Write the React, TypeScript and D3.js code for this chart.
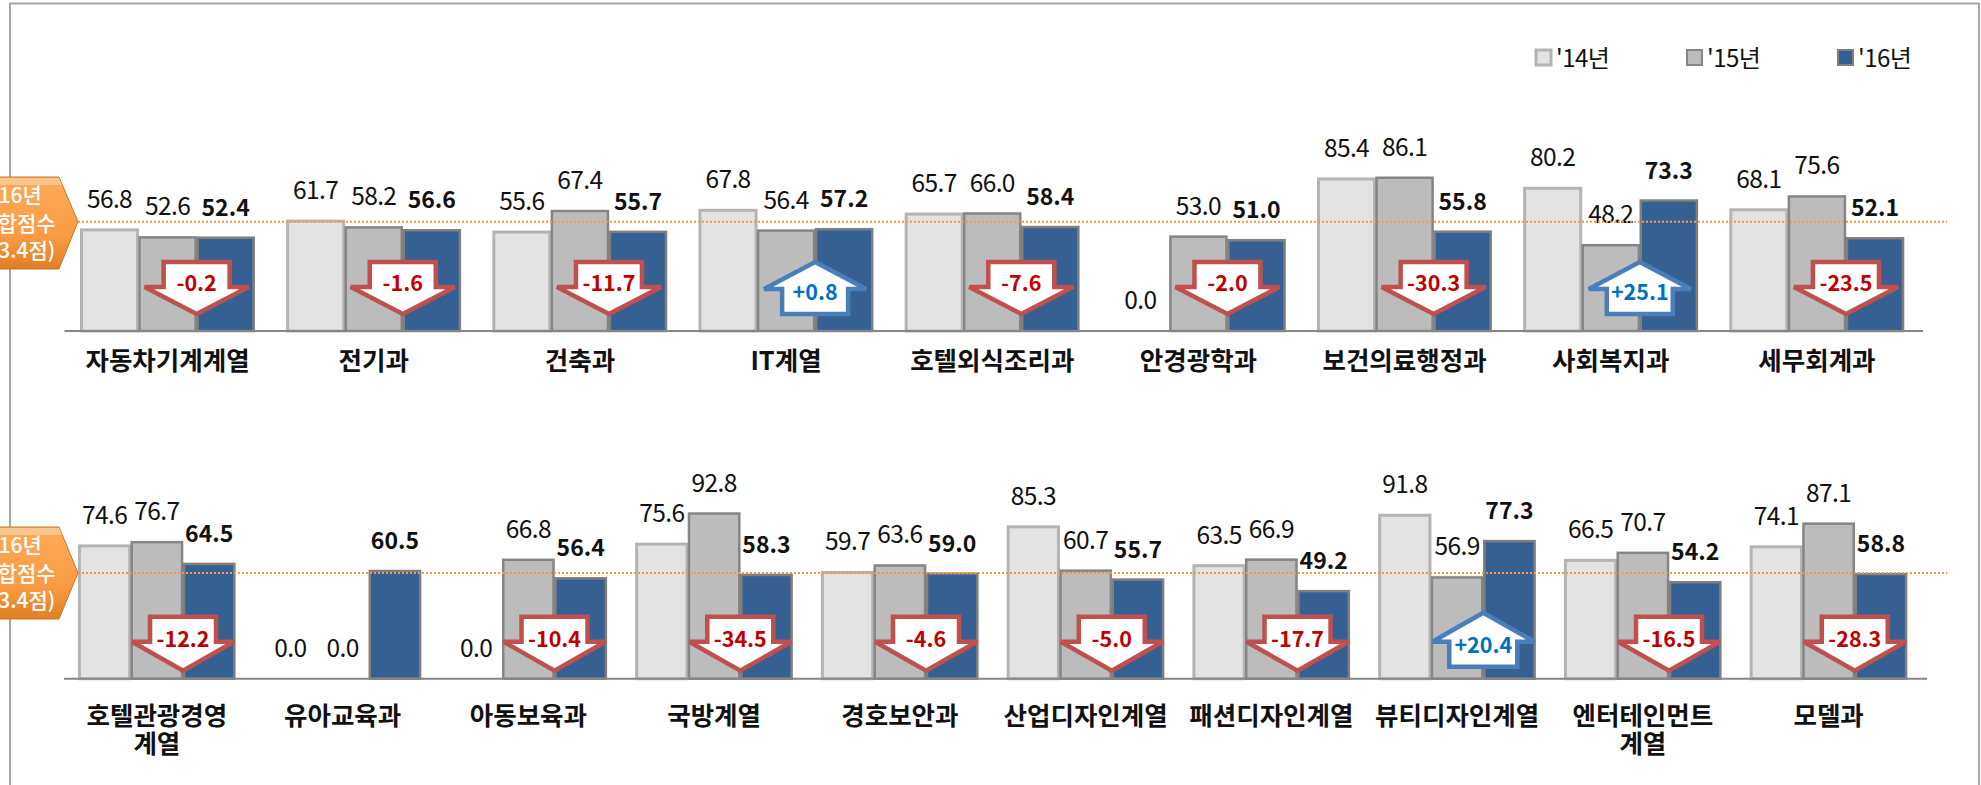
import React from "react";
import * as d3 from "d3";

const seriesNames = ["'14년", "'15년", "'16년"];
const categoriesTop = ["자동차기계계열", "전기과", "건축과", "IT계열", "호텔외식조리과", "안경광학과", "보건의료행정과", "사회복지과", "세무회계과"];
const values14Top = [56.8, 61.7, 55.6, 67.8, 65.7, 0.0, 85.4, 80.2, 68.1];
const values15Top = [52.6, 58.2, 67.4, 56.4, 66.0, 53.0, 86.1, 48.2, 75.6];
const values16Top = [52.4, 56.6, 55.7, 57.2, 58.4, 51.0, 55.8, 73.3, 52.1];
const deltasTop = ["-0.2", "-1.6", "-11.7", "+0.8", "-7.6", "-2.0", "-30.3", "+25.1", "-23.5"];

const categoriesBottom = ["호텔관광경영\n계열", "유아교육과", "아동보육과", "국방계열", "경호보안과", "산업디자인계열", "패션디자인계열", "뷰티디자인계열", "엔터테인먼트\n계열", "모델과"];
const values14Bottom = [74.6, 0.0, 0.0, 75.6, 59.7, 85.3, 63.5, 91.8, 66.5, 74.1];
const values15Bottom = [76.7, 0.0, 66.8, 92.8, 63.6, 60.7, 66.9, 56.9, 70.7, 87.1];
const values16Bottom = [64.5, 60.5, 56.4, 58.3, 59.0, 55.7, 49.2, 77.3, 54.2, 58.8];
const deltasBottom = ["-12.2", "", "-10.4", "-34.5", "-4.6", "-5.0", "-17.7", "+20.4", "-16.5", "-28.3"];

const cutoffLines = [61.4, 59.4];
const badgeLines = ["'16년", "종합점수", "(63.4점)"];

const FONT = "'Noto Sans CJK KR', sans-serif";
const W = 1981, H = 785;
const PX_PER_UNIT = 1.78;
const fills = ["#e3e3e3", "#bcbcbc", "#376092"];
const strokes = ["#b4b4b4", "#858585", "#7f7f7f"];
const strokeWs = [3, 2.5, 2.5];

type ArrowGeom = { halfW: number; shaftHalf: number; top: number; head: number; bottom: number; text: number };
type PanelProps = {
  id: string; categories: string[]; series: number[][]; deltas: string[]; baseline: number;
  x0: number; x1: number; axisEnd: number; cutoff: number; labelY: number; down: ArrowGeom; up: ArrowGeom; badgeTop: number;
};

function arrowPath(cx: number, base: number, a: ArrowGeom, isUp: boolean) {
  const p = isUp
    ? [[cx, a.top], [cx + a.halfW, a.head], [cx + a.shaftHalf, a.head], [cx + a.shaftHalf, a.bottom], [cx - a.shaftHalf, a.bottom], [cx - a.shaftHalf, a.head], [cx - a.halfW, a.head]]
    : [[cx - a.shaftHalf, a.top], [cx + a.shaftHalf, a.top], [cx + a.shaftHalf, a.head], [cx + a.halfW, a.head], [cx, a.bottom], [cx - a.halfW, a.head], [cx - a.shaftHalf, a.head]];
  return d3.line()(p.map(([x, y]) => [x, base + y]) as [number, number][]) + "Z";
}

function Panel({ id, categories, series, deltas, baseline, x0, x1, axisEnd, cutoff, labelY, down, up, badgeTop }: PanelProps) {
  const x = d3.scaleBand<string>().domain(categories).range([x0, x1]).paddingInner(0.155).paddingOuter(0.0775);
  const sub = d3.scaleBand<number>().domain([0, 1, 2]).range([0, x.bandwidth()]);
  const y = d3.scaleLinear().domain([0, 100]).range([baseline, baseline - 100 * PX_PER_UNIT]);
  const lineY = y(cutoff);
  return (
    <g>
      {categories.map((c, i) => (
        <g key={c}>
          {series.map((vals, s) => {
            const bx = x(c)! + sub(s)!;
            const v = vals[i];
            return (
              <g key={s}>
                {v > 0 && (
                  <rect x={bx + 1} y={y(v)} width={sub.bandwidth() - 2} height={baseline - y(v)}
                    fill={fills[s]} stroke={strokes[s]} strokeWidth={strokeWs[s]} />
                )}
              </g>
            );
          })}
        </g>
      ))}
      <line x1={x0} x2={axisEnd} y1={baseline} y2={baseline} stroke="#868686" strokeWidth={2} />
      {categories.map((c, i) => (
        <g key={c + "l"}>
          {series.map((vals, s) => (
            <text key={s} x={x(c)! + sub(s)! + sub.bandwidth() / 2} y={y(vals[i]) - 22} textAnchor="middle"
              fontSize={s === 2 ? 23 : 24.5} fontWeight={s === 2 ? 700 : 400} fill="#111" letterSpacing={s === 2 ? 0 : -0.6}>
              {vals[i].toFixed(1)}
            </text>
          ))}
          {c.split("\n").map((ln, k) => (
            <text key={k} x={x(c)! + x.bandwidth() / 2} y={labelY + k * 28} textAnchor="middle" fontSize={25.5} fontWeight={700} fill="#111">
              {ln}
            </text>
          ))}
        </g>
      ))}
      <line x1={78} x2={1947} y1={lineY} y2={lineY} stroke="#f79646" strokeWidth={2} strokeDasharray="2 2" />
      {categories.map((c, i) => {
        const d = deltas[i];
        if (!d) return null;
        const isUp = d.startsWith("+");
        const a = isUp ? up : down;
        const cx = x(c)! + sub(2)!;
        return (
          <g key={c + "a"}>
            <path d={arrowPath(cx, baseline, a, isUp)} fill="#fff" stroke={isUp ? "#4a7ebb" : "#c0504d"} strokeWidth={4.5} strokeLinejoin="miter" strokeMiterlimit={3} />
            <text x={cx} y={baseline + a.text} textAnchor="middle" fontSize={21.5} fontWeight={700} fill={isUp ? "#0070c0" : "#c00000"}>
              {d}
            </text>
          </g>
        );
      })}
      <path d={`M-10,${badgeTop} L59,${badgeTop} L78,${lineY} L59,${badgeTop + 92} L-10,${badgeTop + 92} Z`} fill={`url(#${id})`} stroke="#c9772a" strokeWidth={1} />
      <path d={`M-10,${badgeTop + 1} L59,${badgeTop + 1} L62,${badgeTop + 8} L-10,${badgeTop + 8} Z`} fill="#fbc68c" />
      {badgeLines.map((t, k) => (
        <text key={t} x={17} y={badgeTop + 26 + k * 27.5} textAnchor="middle" fontSize={21} fontWeight={500} fill="#fff">{t}</text>
      ))}
    </g>
  );
}

export default function App() {
  return (
    <svg width={W} height={H} viewBox={`0 0 ${W} ${H}`} fontFamily={FONT}
      style={{ position: "absolute", left: 0, top: 0, background: "#fff", display: "block" }}>
      <defs>
        {["badgeA", "badgeB"].map((id) => (
          <linearGradient key={id} id={id} x1="0" y1="0" x2="0" y2="1">
            <stop offset="0" stopColor="#fdab58" />
            <stop offset="0.65" stopColor="#f99b43" />
            <stop offset="1" stopColor="#e07f22" />
          </linearGradient>
        ))}
      </defs>
      <path d={`M10,${H} L10,3.5 L1979,3.5 L1979,${H}`} fill="none" stroke="#a6a6a6" strokeWidth={2} />
      {seriesNames.map((n, i) => {
        const lx = d3.scalePoint<string>().domain(seriesNames).range([1535, 1837])(n)!;
        return (
          <g key={n}>
            <rect x={lx + 1} y={50} width={15} height={15} fill={fills[i]} stroke={strokes[i]} strokeWidth={i === 0 ? 3 : 2} />
            <text x={lx + 21} y={67} fontSize={24} fill="#111" letterSpacing={-0.5}>{n}</text>
          </g>
        );
      })}
      <Panel id="badgeA" categories={categoriesTop} series={[values14Top, values15Top, values16Top]} deltas={deltasTop}
        baseline={331} x0={64.5} x1={1920} axisEnd={1923} cutoff={cutoffLines[0]} labelY={370} badgeTop={177}
        down={{ halfW: 52, shaftHalf: 33, top: -69, head: -44, bottom: -17, text: -40 }}
        up={{ halfW: 51, shaftHalf: 33, top: -69, head: -42, bottom: -17, text: -31 }} />
      <Panel id="badgeB" categories={categoriesBottom} series={[values14Bottom, values15Bottom, values16Bottom]} deltas={deltasBottom}
        baseline={678.7} x0={64} x1={1921.5} axisEnd={1927} cutoff={cutoffLines[1]} labelY={725} badgeTop={527}
        down={{ halfW: 51, shaftHalf: 33, top: -62, head: -37, bottom: -8, text: -32 }}
        up={{ halfW: 51, shaftHalf: 34, top: -66, head: -37, bottom: -12, text: -26 }} />
    </svg>
  );
}
